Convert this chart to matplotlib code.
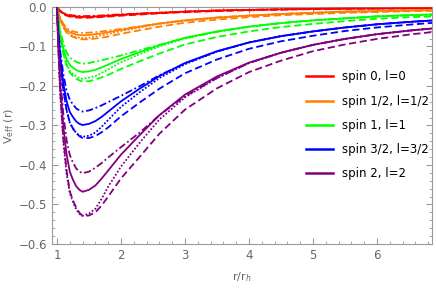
import numpy as np
import matplotlib
matplotlib.use('Agg')
import matplotlib.pyplot as plt
from matplotlib.ticker import MultipleLocator, FuncFormatter

# r / r_h sample points
r = [1.0, 1.02, 1.05, 1.1, 1.15, 1.2, 1.25, 1.3, 1.35, 1.4, 1.5, 1.6, 1.7, 1.8, 2.0, 2.3, 2.6,
     3.0, 3.5, 4.0, 4.5, 5.0, 5.5, 6.0, 6.5, 6.9]

# depth of the well, -V_eff
# spin 0, l=0
red_solid = [0, 0.005, 0.0105, 0.016, 0.020, 0.022, 0.023, 0.024, 0.0247, 0.025, 0.025, 0.024, 0.023,
             0.022, 0.020, 0.017, 0.015, 0.012, 0.009, 0.0075, 0.006, 0.005, 0.004, 0.0037, 0.0032, 0.0029]
red_dashdot = [0, 0.0047, 0.0098, 0.015, 0.0186, 0.0205, 0.0215, 0.0223, 0.0229, 0.0233, 0.023, 0.0224,
               0.0216, 0.0207, 0.019, 0.0166, 0.0146, 0.0118, 0.0093, 0.0075, 0.0062, 0.0051, 0.0043,
               0.0037, 0.0032, 0.0029]
red_dotted = [0, 0.0053, 0.0111, 0.0172, 0.0212, 0.0236, 0.0247, 0.0257, 0.0262, 0.0265, 0.0262, 0.0256,
              0.0246, 0.0234, 0.0210, 0.0180, 0.0152, 0.0120, 0.0094, 0.0075, 0.0062, 0.0051, 0.0043,
              0.0037, 0.0032, 0.0029]
red_dashed = [0, 0.0055, 0.0116, 0.0179, 0.022, 0.0245, 0.0257, 0.0267, 0.0272, 0.0275, 0.0272, 0.0265,
              0.0256, 0.0245, 0.0222, 0.0193, 0.0163, 0.0133, 0.0105, 0.0085, 0.0069, 0.0058, 0.0048,
              0.0041, 0.0035, 0.0032]
# spin 1/2, l=1/2
orange_solid = [0, 0.014, 0.030, 0.047, 0.058, 0.064, 0.067, 0.070, 0.071, 0.072, 0.071, 0.069, 0.067,
                0.064, 0.058, 0.050, 0.042, 0.034, 0.027, 0.022, 0.018, 0.015, 0.012, 0.011, 0.009, 0.008]
orange_dashdot = [0, 0.013, 0.028, 0.043, 0.053, 0.059, 0.062, 0.064, 0.065, 0.066, 0.065, 0.064, 0.062,
                  0.060, 0.056, 0.049, 0.042, 0.034, 0.027, 0.022, 0.018, 0.015, 0.012, 0.011, 0.009, 0.008]
orange_dotted = [0, 0.016, 0.033, 0.051, 0.063, 0.070, 0.073, 0.076, 0.078, 0.079, 0.078, 0.075, 0.072,
                 0.069, 0.061, 0.052, 0.043, 0.035, 0.027, 0.022, 0.018, 0.015, 0.012, 0.011, 0.009, 0.008]
orange_dashed = [0, 0.015, 0.033, 0.052, 0.065, 0.072, 0.076, 0.079, 0.081, 0.082, 0.082, 0.080, 0.078,
                 0.075, 0.068, 0.059, 0.050, 0.040, 0.032, 0.026, 0.021, 0.018, 0.015, 0.013, 0.011, 0.010]
# spin 1, l=1
green_solid = [0, 0.033, 0.069, 0.107, 0.132, 0.147, 0.154, 0.160, 0.163, 0.165, 0.163, 0.159, 0.153,
               0.146, 0.132, 0.114, 0.097, 0.078, 0.062, 0.050, 0.041, 0.034, 0.029, 0.024, 0.021, 0.019]
green_dashdot = [0, 0.029, 0.060, 0.093, 0.115, 0.128, 0.134, 0.139, 0.142, 0.144, 0.142, 0.138, 0.135,
                 0.131, 0.123, 0.109, 0.096, 0.079, 0.063, 0.050, 0.041, 0.034, 0.029, 0.024, 0.021, 0.019]
green_dotted = [0, 0.036, 0.076, 0.118, 0.145, 0.162, 0.170, 0.176, 0.180, 0.182, 0.179, 0.175, 0.167,
                0.158, 0.140, 0.119, 0.100, 0.080, 0.063, 0.050, 0.041, 0.034, 0.029, 0.024, 0.021, 0.019]
green_dashed = [0, 0.035, 0.075, 0.119, 0.148, 0.166, 0.175, 0.182, 0.186, 0.189, 0.188, 0.184, 0.178,
                0.172, 0.157, 0.137, 0.118, 0.095, 0.076, 0.062, 0.051, 0.043, 0.036, 0.030, 0.026, 0.024]
# spin 3/2, l=3/2
blue_solid = [0, 0.060, 0.126, 0.194, 0.239, 0.266, 0.279, 0.290, 0.296, 0.299, 0.296, 0.289, 0.278,
              0.265, 0.239, 0.206, 0.175, 0.142, 0.112, 0.090, 0.074, 0.062, 0.052, 0.044, 0.038, 0.034]
blue_dashdot = [0, 0.053, 0.112, 0.172, 0.212, 0.235, 0.247, 0.257, 0.262, 0.265, 0.262, 0.256, 0.249,
                0.241, 0.225, 0.200, 0.173, 0.143, 0.113, 0.090, 0.074, 0.062, 0.052, 0.044, 0.038, 0.034]
blue_dotted = [0, 0.066, 0.139, 0.213, 0.263, 0.293, 0.308, 0.319, 0.326, 0.329, 0.326, 0.318, 0.303,
               0.286, 0.253, 0.215, 0.180, 0.145, 0.113, 0.090, 0.074, 0.062, 0.052, 0.044, 0.038, 0.034]
blue_dashed = [0, 0.062, 0.134, 0.210, 0.261, 0.293, 0.308, 0.319, 0.327, 0.332, 0.332, 0.327, 0.317,
               0.305, 0.277, 0.241, 0.207, 0.168, 0.133, 0.106, 0.087, 0.073, 0.061, 0.052, 0.045, 0.040]
# spin 2, l=2
purple_solid = [0, 0.094, 0.197, 0.304, 0.374, 0.417, 0.438, 0.454, 0.463, 0.468, 0.463, 0.452, 0.434,
                0.414, 0.374, 0.323, 0.274, 0.222, 0.176, 0.141, 0.116, 0.096, 0.081, 0.069, 0.060, 0.054]
purple_dashdot = [0, 0.085, 0.177, 0.274, 0.337, 0.375, 0.394, 0.409, 0.417, 0.421, 0.417, 0.407, 0.395,
                  0.381, 0.355, 0.317, 0.274, 0.226, 0.180, 0.142, 0.116, 0.096, 0.081, 0.069, 0.060, 0.054]
purple_dotted = [0, 0.106, 0.223, 0.344, 0.423, 0.471, 0.494, 0.513, 0.524, 0.529, 0.523, 0.511, 0.485,
                 0.455, 0.404, 0.342, 0.285, 0.229, 0.180, 0.142, 0.116, 0.096, 0.081, 0.069, 0.060, 0.054]
purple_dashed = [0, 0.099, 0.213, 0.334, 0.415, 0.467, 0.490, 0.508, 0.521, 0.529, 0.528, 0.520, 0.502,
                 0.480, 0.434, 0.378, 0.321, 0.260, 0.206, 0.165, 0.136, 0.112, 0.095, 0.081, 0.070, 0.063]

labels = ['spin 0, l=0', 'spin 1/2, l=1/2', 'spin 1, l=1', 'spin 3/2, l=3/2', 'spin 2, l=2']
colors = ['#ff0000', '#ff8000', '#00ff00', '#0000ff', '#800080']
groups = [
    (red_solid, red_dashdot, red_dotted, red_dashed),
    (orange_solid, orange_dashdot, orange_dotted, orange_dashed),
    (green_solid, green_dashdot, green_dotted, green_dashed),
    (blue_solid, blue_dashdot, blue_dotted, blue_dashed),
    (purple_solid, purple_dashdot, purple_dotted, purple_dashed),
]

gray = '#666666'
fig = plt.figure(figsize=(4.36, 2.88), dpi=100)
ax = fig.add_axes([0.119, 0.153, 0.872, 0.823])

styles = ['-', (0, (4, 1.5, 1, 1.5)), (0, (1, 1)), (0, (4, 2))]
for lab, col, grp in zip(labels, colors, groups):
    for k, (vals, ls) in enumerate(zip(grp, styles)):
        ax.plot(r, -np.array(vals), color=col, lw=1.3, ls=ls,
                label=lab if k == 0 else None, zorder=3 if k == 0 else 2)

ax.set_xlim(0.92, 6.86)
ax.set_ylim(-0.6, 0.0)
ax.xaxis.set_major_locator(MultipleLocator(1))
ax.xaxis.set_minor_locator(MultipleLocator(0.2))
ax.yaxis.set_major_locator(MultipleLocator(0.1))
ax.yaxis.set_minor_locator(MultipleLocator(0.02))
ax.yaxis.set_major_formatter(FuncFormatter(lambda v, p: '0.0' if abs(v) < 1e-9 else f'{v:.1f}'.replace('-', '\u2212')))
ax.tick_params(which='both', direction='in', top=True, right=True, color='#999999',
               labelcolor=gray, labelsize=8.5)
ax.tick_params(which='major', length=4, width=0.8)
ax.tick_params(which='minor', length=2, width=0.6)
for sp in ax.spines.values():
    sp.set_color('#999999')
    sp.set_linewidth(0.8)

ax.set_xlabel('r/r$_h$', color=gray, fontsize=8, labelpad=6)
ax.set_ylabel('V$_{\\mathrm{eff}}$ (r)', color=gray, fontsize=8, labelpad=2)

leg = ax.legend(loc='center left', bbox_to_anchor=(0.64, 0.5), frameon=False,
                fontsize=8.5, handlelength=2.3, handletextpad=0.8, labelspacing=0.95)
for h in leg.get_lines():
    h.set_linewidth(1.8)

fig.savefig('out.png', dpi=100)
